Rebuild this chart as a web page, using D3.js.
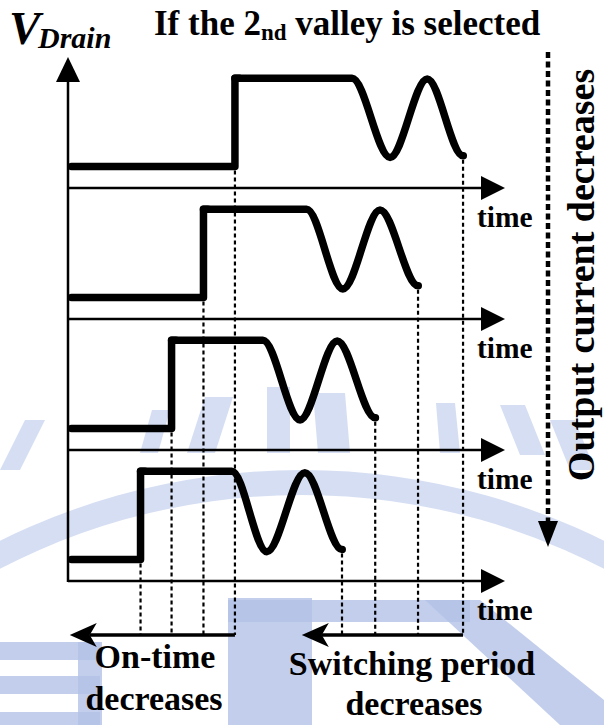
<!DOCTYPE html>
<html><head><meta charset="utf-8">
<script src="https://cdn.jsdelivr.net/npm/d3@7"></script>
<style>html,body{margin:0;padding:0;background:#fff;} svg{display:block;}</style>
</head><body>
<svg id="c" width="604" height="725"></svg>
<script>
// ---------------- data ----------------
const panels      = [0, 1, 2, 3];                 // output current: high -> low (top -> bottom)
const riseTime    = [38.2, 31.0, 23.7, 16.6];     // drain voltage rises (switch turns off)
const ringStart   = [65.0, 54.6, 44.6, 37.5];     // resonant ringing begins
const valleyTime  = [73.7, 62.9, 53.1, 45.5];     // 1st valley
const peakTime    = [82.2, 71.4, 61.6, 54.2];     // ringing peak
const endTime     = [90.4, 80.1, 70.3, 62.7];     // 2nd valley (next turn-on)
const vLow        = [1.0, 1.0, 1.0, 1.0];
const vHigh       = [5.1, 5.1, 5.1, 5.1];
const vValley     = [1.42, 1.40, 1.40, 1.36];
const vPeak       = [5.07, 5.07, 5.07, 5.04];
const vEnd        = [1.50, 1.55, 1.50, 1.46];
const onArrowTip     = 0.4;    // "On-time decreases" arrow points back to here
const periodArrowTip = 53.5;   // "Switching period decreases" arrow tip
const timeLabel   = "time";
const yLabelMain  = "V", yLabelSub = "Drain";
const titleParts  = ["If the 2", "nd", " valley is selected"];
const onLabel     = ["On-time", "decreases"];
const periodLabel = ["Switching period", "decreases"];
const sideLabel   = "Output current decreases";

// ---------------- layout ----------------
const svg = d3.select("#c");
const x = d3.scaleLinear().domain([0, 100]).range([68, 505]);
const panelY = d3.scaleLinear().domain([0, 3]).range([188, 581]);
const vScale = i => d3.scaleLinear().domain([0, 6]).range([panelY(i), panelY(i) - 129]);
const arrowY = 635;
const serif = "'Liberation Serif','Times New Roman',Times,serif";

// ---------------- faint watermark ----------------
const wm = svg.append("g").attr("fill", "#b3c2e7");
const cx = 302, cy = 1150;
wm.append("path").attr("opacity", 0.55)
  .attr("d", d3.arc().innerRadius(655).outerRadius(680).startAngle(-0.55).endAngle(0.55)())
  .attr("transform", `translate(${cx},${cy})`);
const stripes = [
  [[140,453],[158,453],[170,410],[152,410]],
  [[187,453],[215,453],[233,397],[205,397]],
  [[267,453],[290,453],[290,387],[267,387]],
  [[318,453],[350,453],[345,393],[313,393]],
  [[440,453],[460,453],[455,403],[436,403]],
  [[0,470],[20,470],[45,420],[25,420]],
  [[520,455],[545,455],[525,405],[500,405]],
  [[570,470],[595,470],[575,420],[550,420]]
];
wm.selectAll(".st").data(stripes).join("polygon").attr("opacity", 0.55)
  .attr("points", d => d.map(p => p.join(",")).join(" "));
const blocks = [[228,598,84,127],[228,600,242,22],[0,642,100,18],[0,676,100,18],[0,712,100,13],[78,642,24,83]];
wm.selectAll(".bl").data(blocks).join("rect").attr("opacity", 0.8)
  .attr("x", d => d[0]).attr("y", d => d[1]).attr("width", d => d[2]).attr("height", d => d[3]);
wm.append("polygon").attr("opacity", 0.8).attr("points", "425,600 480,600 604,700 604,725 560,725");

// ---------------- axes ----------------
const g = svg.append("g");
g.append("line").attr("x1", x(0)).attr("x2", x(0)).attr("y1", panelY(3) + 1).attr("y2", 80)
  .attr("stroke", "#000").attr("stroke-width", 2.5);
g.append("polygon").attr("points", `${x(0)},57 ${x(0)-12},82 ${x(0)+12},82`).attr("fill", "#000");

panels.forEach(i => {
  const y = panelY(i);
  g.append("line").attr("x1", x(0)).attr("x2", x(100) - 20).attr("y1", y).attr("y2", y)
    .attr("stroke", "#000").attr("stroke-width", 2.5);
  g.append("polygon").attr("points", `${x(100)},${y} ${x(100)-24},${y-12} ${x(100)-24},${y+12}`).attr("fill", "#000");
  g.append("text").attr("x", 477).attr("y", y + 39).text(timeLabel)
    .attr("font-family", serif).attr("font-weight", "bold").attr("font-size", 29.5);
});

// dotted guide lines
panels.forEach(i => {
  const v = vScale(i);
  [[riseTime[i], v(vLow[i])], [endTime[i], v(vEnd[i])]].forEach(([t, y0]) => {
    g.append("line").attr("x1", x(t)).attr("x2", x(t)).attr("y1", y0 + 4).attr("y2", arrowY)
      .attr("stroke", "#000").attr("stroke-width", 2.2).attr("stroke-dasharray", "4,3");
  });
});

// waveforms
const lineLin = d3.line().x(d => x(d[0])).y(d => d[1]);
const lineMono = d3.line().x(d => x(d[0])).y(d => d[1]).curve(d3.curveMonotoneX);
panels.forEach(i => {
  const v = vScale(i);
  const step = [[0.8, v(vLow[i])], [riseTime[i], v(vLow[i])], [riseTime[i], v(vHigh[i])], [riseTime[i] + 1, v(vHigh[i])]];
  const ring = [[riseTime[i], v(vHigh[i])], [ringStart[i], v(vHigh[i])], [valleyTime[i], v(vValley[i])],
                [peakTime[i], v(vPeak[i])], [endTime[i], v(vEnd[i])], [endTime[i] + 0.05, v(vEnd[i])]];
  [lineLin(step), lineMono(ring)].forEach(d =>
    g.append("path").attr("d", d).attr("fill", "none").attr("stroke", "#000")
      .attr("stroke-width", 7.5).attr("stroke-linejoin", "round").attr("stroke-linecap", "round"));
});

// bottom arrows
function leftArrow(xFrom, xTip) {
  g.append("line").attr("x1", xFrom).attr("x2", xTip + 20).attr("y1", arrowY).attr("y2", arrowY)
    .attr("stroke", "#000").attr("stroke-width", 3.5);
  g.append("polygon")
    .attr("points", `${xTip},${arrowY} ${xTip+27},${arrowY-12} ${xTip+20},${arrowY} ${xTip+27},${arrowY+12}`)
    .attr("fill", "#000");
}
leftArrow(x(riseTime[0]), x(onArrowTip));
leftArrow(x(endTime[0]), x(periodArrowTip));

// right dashed "output current decreases" arrow
g.append("line").attr("x1", 548).attr("x2", 548).attr("y1", 52).attr("y2", 522)
  .attr("stroke", "#000").attr("stroke-width", 4.5).attr("stroke-dasharray", "6,3.5");
g.append("polygon").attr("points", `548,547 538,521 558,521`).attr("fill", "#000");

// ---------------- text ----------------
const T = (xx, yy, s, size, anchor, style) => g.append("text").attr("x", xx).attr("y", yy).text(s)
  .attr("font-family", serif).attr("font-weight", "bold").attr("font-size", size)
  .attr("text-anchor", anchor || "start").attr("font-style", style || "normal");

T(9, 44, yLabelMain, 47, "start", "italic");
T(38, 48, yLabelSub, 30, "start", "italic");

const title = g.append("text").attr("x", 154).attr("y", 35)
  .attr("font-family", serif).attr("font-weight", "bold").attr("font-size", 35);
title.append("tspan").text(titleParts[0]);
title.append("tspan").text(titleParts[1]).attr("font-size", 23).attr("dy", 5);
title.append("tspan").text(titleParts[2]).attr("dy", -5);

T(155, 668, onLabel[0], 34, "middle");
T(154, 710, onLabel[1], 34, "middle");
T(412, 675, periodLabel[0], 34, "middle");
T(414, 715, periodLabel[1], 34, "middle");

g.append("text").attr("transform", "translate(594,275) rotate(-90)").text(sideLabel)
  .attr("font-family", serif).attr("font-weight", "bold").attr("font-size", 38).attr("text-anchor", "middle");
</script>
</body></html>
